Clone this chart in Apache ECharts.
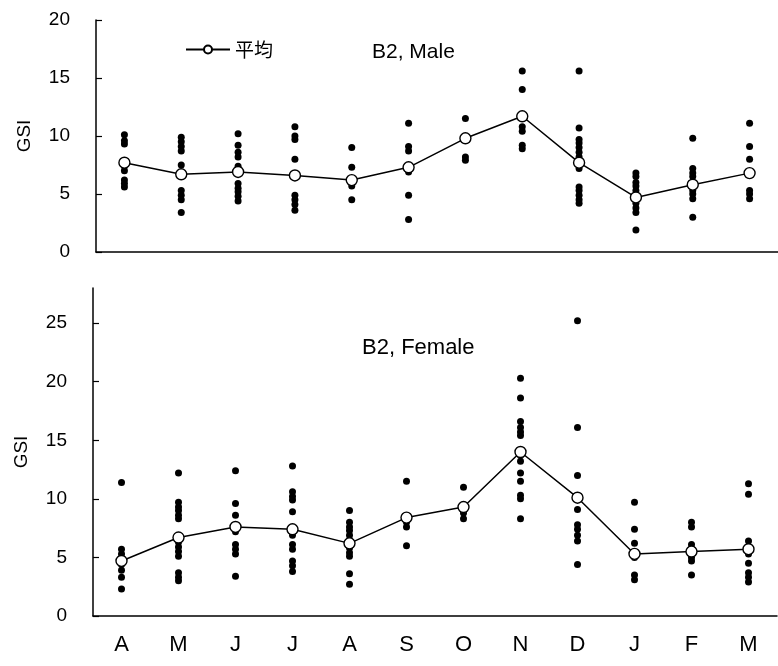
<!DOCTYPE html>
<html>
<head>
<meta charset="utf-8">
<script src="https://cdn.jsdelivr.net/npm/echarts@6/dist/echarts.min.js"></script>
<style>
  html, body { margin: 0; padding: 0; background: #fff; }
  #main { width: 778px; height: 666px; }
</style>
</head>
<body>
<div id="main"></div>
<script>
// months (April .. March)
var months = ['A', 'M', 'J', 'J', 'A', 'S', 'O', 'N', 'D', 'J', 'F', 'M'];

// B2, Male - monthly means
var maleMean = [7.7, 6.7, 6.9, 6.6, 6.2, 7.3, 9.8, 11.7, 7.7, 4.7, 5.8, 6.8];
// B2, Male - individual GSI values per month
var maleDots = [
    [10.1, 9.6, 9.3, 7.4, 7.0, 6.2, 5.9, 5.6],
    [9.9, 9.5, 9.1, 8.7, 7.5, 5.3, 4.9, 4.5, 3.4],
    [10.2, 9.2, 8.6, 8.2, 7.4, 5.9, 5.5, 5.2, 4.8, 4.4],
    [10.8, 10.0, 9.7, 8.0, 4.9, 4.5, 4.1, 3.6],
    [9.0, 7.3, 5.7, 4.5],
    [11.1, 9.1, 8.7, 6.9, 4.9, 2.8],
    [11.5, 8.2, 7.9],
    [15.6, 14.0, 10.8, 10.4, 9.2, 8.9],
    [15.6, 10.7, 9.7, 9.4, 9.0, 8.6, 8.2, 7.2, 5.6, 5.3, 4.9, 4.5, 4.2],
    [6.8, 6.5, 6.0, 5.7, 5.3, 4.2, 3.8, 3.4, 1.9],
    [9.8, 7.2, 6.8, 6.5, 5.3, 5.0, 4.6, 3.0],
    [11.1, 9.1, 8.0, 5.3, 5.0, 4.6]
];

// B2, Female - monthly means
var femaleMean = [4.7, 6.7, 7.6, 7.4, 6.2, 8.4, 9.3, 14.0, 10.1, 5.3, 5.5, 5.7];
// B2, Female - individual GSI values per month
var femaleDots = [
    [11.4, 5.7, 5.3, 4.4, 3.9, 3.3, 2.3],
    [12.2, 9.7, 9.3, 9.0, 8.6, 8.3, 6.3, 5.9, 5.5, 5.1, 3.7, 3.3, 3.0],
    [12.4, 9.6, 8.6, 7.2, 6.1, 5.7, 5.3, 3.4],
    [12.8, 10.6, 10.2, 9.9, 8.9, 6.9, 6.1, 5.7, 4.7, 4.3, 3.8],
    [9.0, 8.0, 7.6, 7.3, 6.9, 6.5, 5.8, 5.4, 5.1, 3.6, 2.7],
    [11.5, 8.0, 7.6, 6.0],
    [11.0, 8.8, 8.3],
    [20.3, 18.6, 16.6, 16.1, 15.7, 15.4, 13.7, 13.2, 12.2, 11.5, 10.3, 10.0, 8.3],
    [25.2, 16.1, 12.0, 9.1, 7.8, 7.4, 6.9, 6.4, 4.4],
    [9.7, 7.4, 6.2, 5.0, 3.5, 3.1],
    [8.0, 7.6, 6.1, 5.7, 5.0, 4.7, 3.5],
    [11.3, 10.4, 6.4, 5.9, 5.3, 4.5, 3.7, 3.3, 2.9]
];

var maleTicks = [0, 5, 10, 15, 20];
var femaleTicks = [0, 5, 10, 15, 20, 25];

var FONT = "'Liberation Sans', Arial, sans-serif";

// [monthIndex, value] pairs for the scatter
function toPoints(dots) {
    var res = [];
    dots.forEach(function (list, i) {
        list.forEach(function (v) { res.push([i, v]); });
    });
    return res;
}

function xAxisOf(grid, showLabel) {
    return {
        type: 'category',
        gridIndex: grid,
        data: months,
        boundaryGap: true,
        axisLine: { lineStyle: { color: '#000', width: 1.5 } },
        axisTick: { inside: true, length: 6, lineStyle: { color: '#000', width: 1.2 } },
        axisLabel: { show: showLabel, color: '#000', fontSize: 22, fontFamily: FONT, margin: 18 },
        splitLine: { show: false }
    };
}

function yAxisOf(grid, max, ticks) {
    return {
        type: 'value',
        gridIndex: grid,
        min: 0,
        max: max,
        interval: 5,
        name: 'GSI',
        nameLocation: 'middle',
        nameRotate: 90,
        nameGap: 62,
        nameTextStyle: { color: '#000', fontSize: 19, fontFamily: FONT },
        axisLine: { show: true, lineStyle: { color: '#000', width: 1.5 } },
        axisTick: { show: true, inside: true, length: 6, customValues: ticks, lineStyle: { color: '#000', width: 1.2 } },
        axisLabel: { color: '#000', fontSize: 19, fontFamily: FONT, margin: 26, customValues: ticks },
        splitLine: { show: false }
    };
}

var dotStyle = { color: '#000', opacity: 1 };
var meanLine = { color: '#000', width: 1.5 };
var meanItem = { color: '#fff', borderColor: '#000', borderWidth: 1.4, opacity: 1 };

var chart = echarts.init(document.getElementById('main'));
chart.setOption({
    backgroundColor: '#fff',
    animation: false,
    title: [
        { text: 'B2, Male', left: 372, top: 42, padding: 0, textStyle: { fontSize: 21, fontWeight: 'normal', color: '#000', fontFamily: FONT } },
        { text: 'B2, Female', left: 362, top: 337, padding: 0, textStyle: { fontSize: 22, fontWeight: 'normal', color: '#000', fontFamily: FONT } }
    ],
    legend: {
        data: ['平均'],
        left: 180,
        top: 35,
        itemWidth: 44,
        itemHeight: 10,
        itemGap: 6,
        textStyle: { color: '#000', fontSize: 19, fontFamily: "'Noto Sans CJK JP', sans-serif" }
    },
    grid: [
        { left: 96, top: 20, width: 690, height: 232 },
        { left: 93, top: 288, width: 684, height: 328 }
    ],
    xAxis: [xAxisOf(0, false), xAxisOf(1, true)],
    yAxis: [yAxisOf(0, 20, maleTicks), yAxisOf(1, 28, femaleTicks)],
    series: [
        {
            name: 'male', type: 'scatter', xAxisIndex: 0, yAxisIndex: 0,
            symbolSize: 7, itemStyle: dotStyle, data: toPoints(maleDots), z: 2
        },
        {
            name: '平均', type: 'line', xAxisIndex: 0, yAxisIndex: 0,
            symbol: 'circle', symbolSize: 11, showAllSymbol: true,
            lineStyle: meanLine, itemStyle: meanItem, data: maleMean, z: 3
        },
        {
            name: 'female', type: 'scatter', xAxisIndex: 1, yAxisIndex: 1,
            symbolSize: 7, itemStyle: dotStyle, data: toPoints(femaleDots), z: 2
        },
        {
            name: 'female mean', type: 'line', xAxisIndex: 1, yAxisIndex: 1,
            symbol: 'circle', symbolSize: 11, showAllSymbol: true,
            lineStyle: meanLine, itemStyle: meanItem, data: femaleMean, z: 3
        }
    ]
});
</script>
</body>
</html>
